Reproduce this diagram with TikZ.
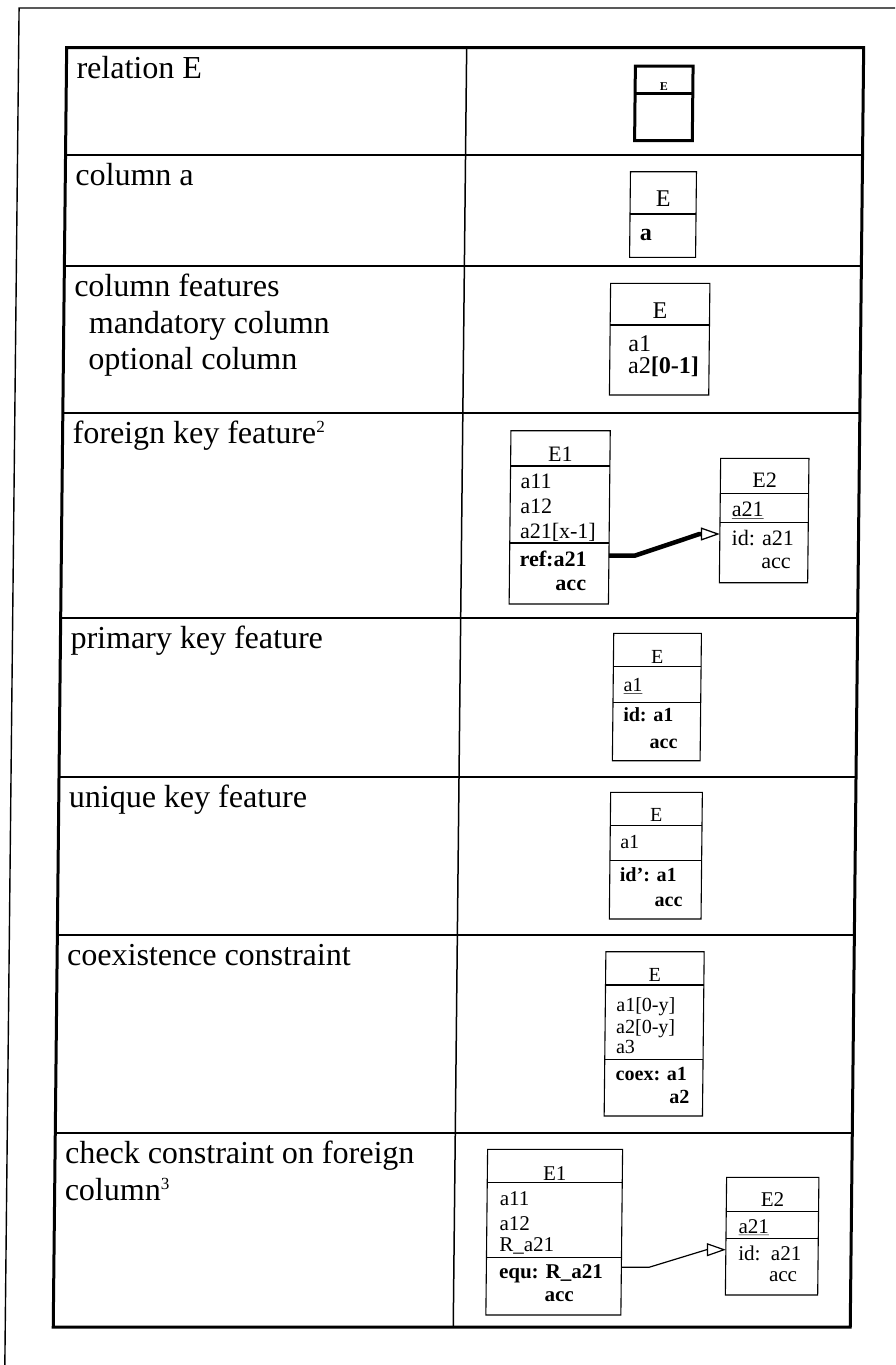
\documentclass[tikz,border=0pt]{standalone}
\usepackage{fontspec}
\setmainfont{Liberation Serif}
\usetikzlibrary{arrows.meta}
\newcommand\notemark[1]{{\fontsize{17}{17}\selectfont\raisebox{11pt}{#1}}}
\begin{document}
\begin{tikzpicture}[x=1pt,y=-1pt,
  frameline/.style={line width=1.4pt},
  tableframe/.style={line width=3pt},
  rowrule/.style={line width=1.5pt},
  lab/.style={anchor=base west, inner sep=0pt, font=\fontsize{32}{36}\selectfont},
  ent/.style={draw, rectangle, line width=1.1pt, inner sep=0pt, outer sep=0pt, anchor=north west},
  entsep/.style={line width=1.1pt},
  et/.style={anchor=base west, inner sep=0pt},
  ett/.style={anchor=base, inner sep=0pt},
  fbig/.style={font=\fontsize{24}{26}\selectfont},
  fmid/.style={font=\fontsize{22}{24}\selectfont},
  fsml/.style={font=\fontsize{20}{22}\selectfont},
  fchk/.style={font=\fontsize{21}{23}\selectfont},
  fkline/.style={line width=4.5pt, -{Triangle[open, length=19pt, width=13pt, line width=1.3pt 0 0]}},
  ckline/.style={line width=1.2pt, -{Triangle[open, length=19pt, width=13pt, line width=1.2pt 0 0]}}
]
\useasboundingbox (0,0) rectangle (895,1365);
\fill[white] (0,0) rectangle (895,1365);
\clip (0,0) rectangle (895,1365);
\begin{scope}[xshift=7.17pt, xslant=0.0105, transform shape]

% page frame
\draw[frameline] (12,1420) -- (12,8) -- (940,8);

% table grid
\draw[tableframe] (60,47.5) rectangle (857,1327);
\draw[rowrule] (460,47.5) -- (460,1327);
\foreach \yy in {155,266,413,618,777,935,1133}
  \draw[rowrule] (60,\yy) -- (857,\yy);

% left column labels
\node[lab] (lrel)  at (70,78)    {relation E};
\node[lab] (lcol)  at (70,185.5) {column a};
\node[lab] (lfeat) at (70,296.7) {column features};
\node[lab] (lmand) at (85,333.2) {mandatory column};
\node[lab] (lopt)  at (85,369.7) {optional column};
\node[lab] (lfk)   at (70,443.5) {foreign key feature\notemark{2}};
\node[lab] (lpk)   at (70,648.5) {primary key feature};
\node[lab] (luk)   at (70,807.5) {unique key feature};
\node[lab] (lco)   at (70,965.5) {coexistence constraint};
\node[lab] (lck)   at (70,1163.5) {check constraint on foreign};
\node[lab] (lck2)  at (70,1200)  {column\notemark{3}};

% relation E
\node[ent, line width=3pt, minimum width=57.7pt, minimum height=74.7pt] (relbox) at (628.9,66) {};
\draw[line width=2.6pt] (628.9,93.3) -- (686.6,93.3);
\node[ett, font=\fontsize{12}{12}\selectfont\bfseries] (relt) at (657.7,90) {E};

% column a
\node[ent, minimum width=66pt, minimum height=85.6pt] (colbox) at (625.1,171.7) {};
\draw[entsep] (625.1,214) -- (691.1,214);
\node[ett, fbig] (colt) at (658.1,206.7) {E};
\node[et, fbig] (cola) at (635.1,240) {\textbf{a}};

% column features
\node[ent, minimum width=99.3pt, minimum height=111.7pt] (featbox) at (606.4,283.3) {};
\draw[entsep] (606.4,325) -- (705.7,325);
\node[ett, fbig] (featt) at (656,318.3) {E};
\node[et, fbig] (feata) at (624.7,351.7) {a1};
\node[et, fbig] (featb) at (624.7,373.3) {a2\textbf{[0-1]}};

% foreign key
\node[ent, minimum width=99.3pt, minimum height=173.3pt] (fkA) at (508.3,430.7) {};
\draw[entsep] (508.3,466) -- (607.6,466);
\draw[entsep] (508.3,543) -- (607.6,543);
\node[ett, fmid] (fkAt) at (558,461.7) {E1};
\node[et, fmid] (fkA1) at (518.3,488.3) {a11};
\node[et, fmid] (fkA2) at (518.3,513.3) {a12};
\node[et, fmid] (fkA3) at (518.3,538.3) {a21[x-1]};
\node[et, fmid] (fkA4) at (518.3,566.7) {\textbf{ref:a21}};
\node[et, fmid] (fkA5) at (554.3,590) {\textbf{acc}};

\node[ent, minimum width=88.3pt, minimum height=124.4pt] (fkB) at (718.3,458.3) {};
\draw[entsep] (718.3,493.3) -- (806.6,493.3);
\draw[entsep] (718.3,522.7) -- (806.6,522.7);
\node[ett, fmid] (fkBt) at (762.5,487.3) {E2};
\node[et, fmid] (fkB1) at (730,516.7) {\underline{a21}};
\node[et, fmid] (fkB2) at (730,545) {id: a21};
\node[et, fmid] (fkB3) at (760,568.3) {acc};

\draw[fkline] (fkA.east |- 0,555.7) -- ++(25.7,0) -- ++(64.7,-21.7) -- (fkB.west |- 0,534);

% primary key
\node[ent, minimum width=87.7pt, minimum height=127.4pt] (pkbox) at (613.2,633.3) {};
\draw[entsep] (613.2,666.7) -- (700.9,666.7);
\draw[entsep] (613.2,702.7) -- (700.9,702.7);
\node[ett, fsml] (pkt) at (657,663.3) {E};
\node[et, fsml] (pk1) at (623.5,691.7) {\underline{a1}};
\node[et, fsml] (pk2) at (623.5,721.7) {\textbf{id: a1}};
\node[et, fsml] (pk3) at (650.2,748.3) {\textbf{acc}};

% unique key
\node[ent, minimum width=91.7pt, minimum height=126.7pt] (ukbox) at (611.8,792.3) {};
\draw[entsep] (611.8,825.7) -- (703.5,825.7);
\draw[entsep] (611.8,860.7) -- (703.5,860.7);
\node[ett, fsml] (ukt) at (657.6,821.7) {E};
\node[et, fsml] (uk1) at (621.8,848.3) {a1};
\node[et, fsml] (uk2) at (621.8,881.7) {\textbf{id': a1}};
\node[et, fsml] (uk3) at (656.8,906.7) {\textbf{acc}};

% coexistence
\node[ent, minimum width=98.3pt, minimum height=164.3pt] (cobox) at (608.7,951.7) {};
\draw[entsep] (608.7,985) -- (707,985);
\draw[entsep] (608.7,1059.3) -- (707,1059.3);
\node[ett, fsml] (cot) at (657.8,981.7) {E};
\node[et, fsml] (co1) at (619.7,1011.7) {a1[0-y]};
\node[et, fsml] (co2) at (619.7,1033.3) {a2[0-y]};
\node[et, fsml] (co3) at (619.7,1053.3) {a3};
\node[et, fsml] (co4) at (619.7,1080) {\textbf{coex: a1}};
\node[et, fsml] (co5) at (673.7,1103.3) {\textbf{a2}};

% check constraint
\node[ent, minimum width=135pt, minimum height=165.7pt] (ckA) at (492.5,1149.3) {};
\draw[entsep] (492.5,1182.7) -- (627.5,1182.7);
\draw[entsep] (492.5,1257.7) -- (627.5,1257.7);
\node[ett, fchk] (ckAt) at (560,1180) {E1};
\node[et, fchk] (ckA1) at (505.1,1205) {a11};
\node[et, fchk] (ckA2) at (505.1,1230) {a12};
\node[et, fchk] (ckA3) at (505.1,1251.7) {R\_a21};
\node[et, fchk] (ckA4) at (505.1,1278.3) {\textbf{equ: R\_a21}};
\node[et, fchk] (ckA5) at (550.8,1301.7) {\textbf{acc}};

\node[ent, minimum width=92.3pt, minimum height=117.7pt] (ckB) at (731.8,1177.3) {};
\draw[entsep] (731.8,1211.7) -- (824.1,1211.7);
\draw[entsep] (731.8,1238.3) -- (824.1,1238.3);
\node[ett, fchk] (ckBt) at (778,1206.7) {E2};
\node[et, fchk] (ckB1) at (744.1,1233.3) {\underline{a21}};
\node[et, fchk] (ckB2) at (744.1,1260) {id:\ \ a21};
\node[et, fchk] (ckB3) at (775.1,1281.7) {acc};

\draw[ckline] (ckA.east |- 0,1267.3) -- ++(27.6,0) -- ++(57.4,-17.6) -- (ckB.west |- 0,1249.7);

\end{scope}
\end{tikzpicture}
\end{document}
